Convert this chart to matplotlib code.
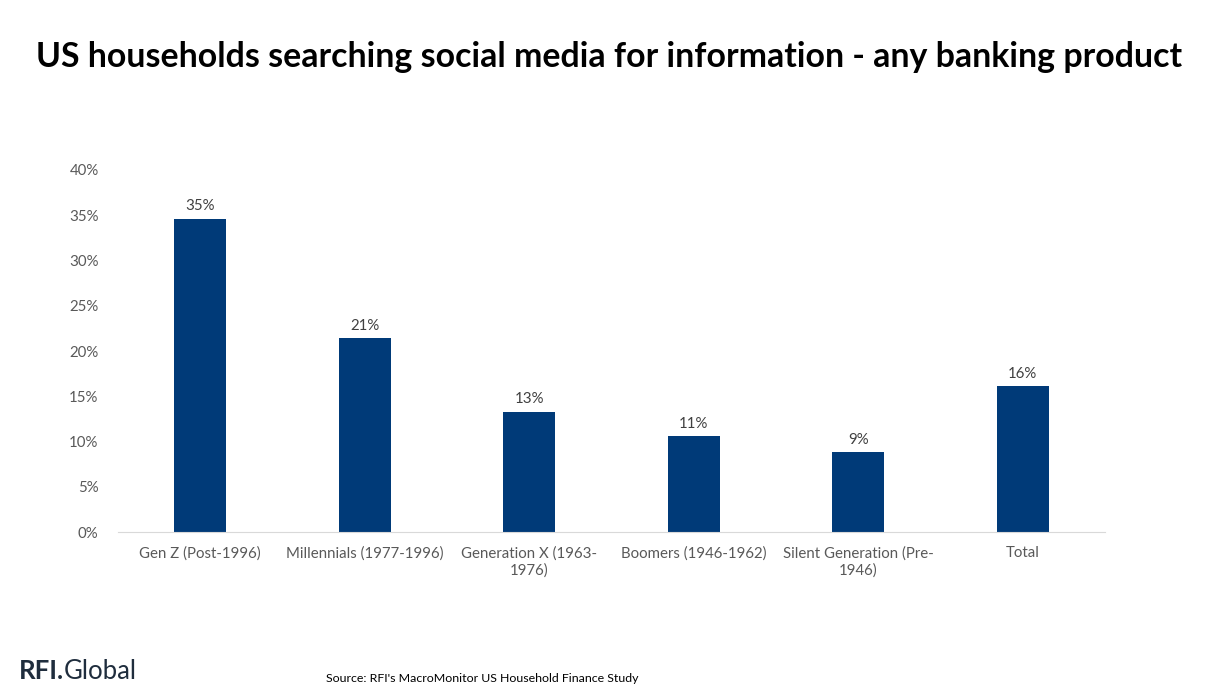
import matplotlib.pyplot as plt

categories = ["Gen Z (Post-1996)", "Millennials (1977-1996)", "Generation X (1963-\n1976)",
              "Boomers (1946-1962)", "Silent Generation (Pre-\n1946)", "Total"]
values = [0.346, 0.214, 0.133, 0.106, 0.088, 0.161]
labels = ["35%", "21%", "13%", "11%", "9%", "16%"]
yticks = [0, 0.05, 0.10, 0.15, 0.20, 0.25, 0.30, 0.35, 0.40]

plt.rcParams['font.family'] = ['Lato', 'DejaVu Sans']
navy = '#003a78'
gray = '#595959'

fig = plt.figure(figsize=(12.32, 6.97), dpi=100)
ax = fig.add_axes([0.0958, 0.2367, 0.801, 0.5194])

x = range(len(categories))
ax.bar(x, values, width=0.316, color=navy)
for xi, v, lab in zip(x, values, labels):
    ax.text(xi, v + 0.006, lab, ha='center', va='bottom', fontsize=10.8, color='#404040')

ax.set_xlim(-0.5, len(categories) - 0.5)
ax.set_ylim(0, 0.40)
ax.set_yticks(yticks)
ax.set_yticklabels([f"{int(round(t * 100))}%" for t in yticks], fontsize=10.8, color=gray)
ax.set_xticks(list(x))
ax.set_xticklabels(categories, fontsize=10.8, color=gray, linespacing=1.25)
ax.tick_params(axis='both', length=0)
ax.tick_params(axis='x', pad=10)
ax.tick_params(axis='y', pad=14)
for s in ['top', 'right', 'left']:
    ax.spines[s].set_visible(False)
ax.spines['bottom'].set_color('#d9d9d9')

fig.text(0.494, 0.918, "US households searching social media for information - any banking product",
         ha='center', va='center', fontsize=24.4, fontweight='bold', color='black')

# logo: bold "RFI." followed directly by regular "Global"
rfi = fig.text(0.015, 0.037, "RFI.", ha='left', va='center', fontsize=18.5, fontweight='bold', color='#1f2d3d')
fig.canvas.draw()
bb = rfi.get_window_extent().transformed(fig.transFigure.inverted())
fig.text(bb.x1, 0.037, "Global", ha='left', va='center', fontsize=18.5, color='#1f2d3d')

fig.text(0.265, 0.027, "Source: RFI's MacroMonitor US Household Finance Study",
         ha='left', va='center', fontsize=8.9, color='black')

fig.savefig("out.png", dpi=100)
